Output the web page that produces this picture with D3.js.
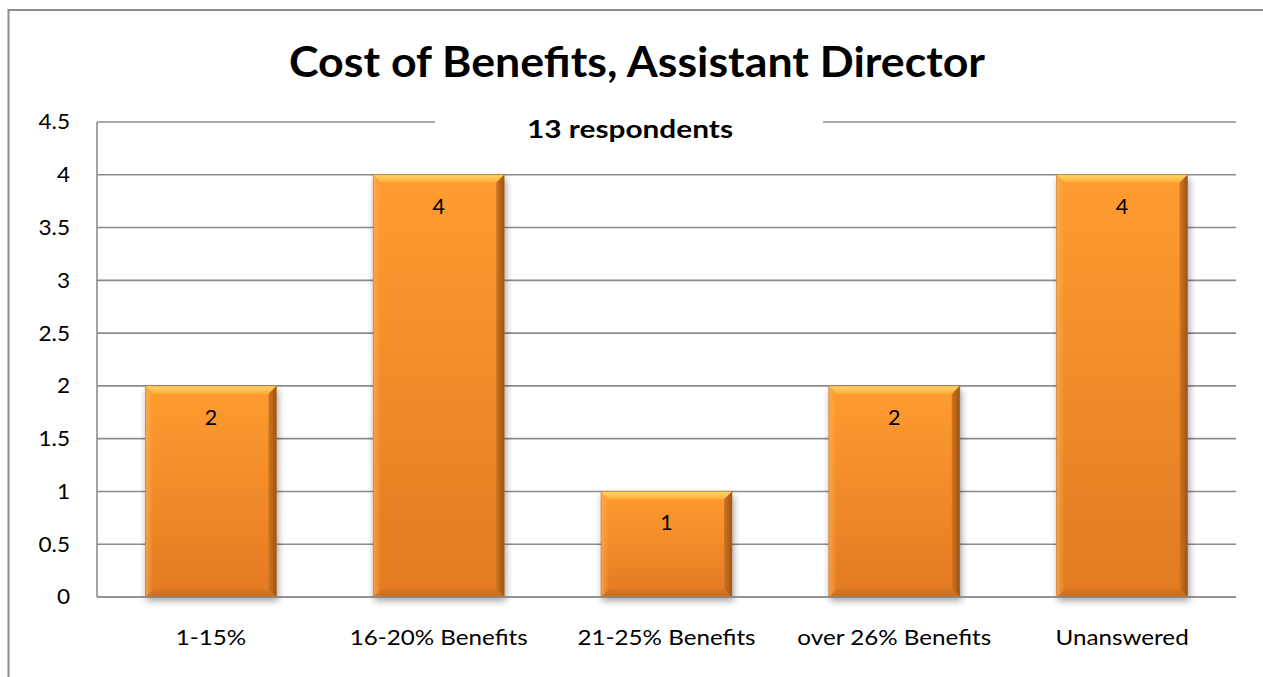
<!DOCTYPE html>
<html><head><meta charset="utf-8">
<script src="https://cdn.jsdelivr.net/npm/d3@7"></script>
<style>html,body{margin:0;padding:0;background:#fff;overflow:hidden}</style>
</head><body>
<svg id="c" width="1263" height="677"></svg>
<script>
const categories = ["1-15%", "16-20% Benefits", "21-25% Benefits", "over 26% Benefits", "Unanswered"];
const values = [2, 4, 1, 2, 4];
const yTicks = [0, 0.5, 1, 1.5, 2, 2.5, 3, 3.5, 4, 4.5];
const title = "Cost of Benefits, Assistant Director";
const subtitle = "13 respondents";

const svg = d3.select("#c");
const FONT = "Lato, 'Open Sans', sans-serif";
const grid = "#8c8c8c";

// outer frame
svg.append("rect").attr("x", 8.5).attr("y", 10).attr("width", 1300).attr("height", 700)
  .attr("fill", "#fff").attr("stroke", grid).attr("stroke-width", 2);

const L = 97, R = 1236, T = 122, B = 597;
const x = d3.scaleBand().domain(categories).range([L, R]).paddingInner(0.425).paddingOuter(0.2125);
const y = d3.scaleLinear().domain([0, 4.5]).range([B, T]);

const defs = svg.append("defs");
const g1 = defs.append("linearGradient").attr("id", "barg").attr("x1", 0).attr("y1", 0).attr("x2", 0).attr("y2", 1);
g1.append("stop").attr("offset", "0%").attr("stop-color", "#ff9c30");
g1.append("stop").attr("offset", "100%").attr("stop-color", "#e27a22");
const gl = defs.append("linearGradient").attr("id", "leftg").attr("x1", 0).attr("y1", 0).attr("x2", 1).attr("y2", 0);
gl.append("stop").attr("offset", "0%").attr("stop-color", "#ffb050").attr("stop-opacity", 0.7);
gl.append("stop").attr("offset", "100%").attr("stop-color", "#ffb050").attr("stop-opacity", 0);
const gt = defs.append("linearGradient").attr("id", "topg").attr("x1", 0).attr("y1", 0).attr("x2", 0).attr("y2", 1);
gt.append("stop").attr("offset", "0%").attr("stop-color", "#ffd866");
gt.append("stop").attr("offset", "100%").attr("stop-color", "#ffab3a");
const gr = defs.append("linearGradient").attr("id", "rightg").attr("x1", 0).attr("y1", 0).attr("x2", 1).attr("y2", 0);
gr.append("stop").attr("offset", "0%").attr("stop-color", "#d27520");
gr.append("stop").attr("offset", "100%").attr("stop-color", "#9a5416");
const gb = defs.append("linearGradient").attr("id", "botg").attr("x1", 0).attr("y1", 0).attr("x2", 0).attr("y2", 1);
gb.append("stop").attr("offset", "0%").attr("stop-color", "#d8761f");
gb.append("stop").attr("offset", "100%").attr("stop-color", "#b05f18");
const f = defs.append("filter").attr("id", "sh").attr("x", "-20%").attr("y", "-20%").attr("width", "140%").attr("height", "140%");
f.append("feGaussianBlur").attr("stdDeviation", 3.5);

// gridlines
svg.append("g").selectAll("line").data(yTicks).join("line")
  .attr("x1", L).attr("x2", R).attr("y1", d => y(d)).attr("y2", d => y(d))
  .attr("stroke", grid).attr("stroke-width", 1.6);
// left axis
svg.append("line").attr("x1", L).attr("x2", L).attr("y1", T).attr("y2", B)
  .attr("stroke", grid).attr("stroke-width", 1.6);

function stretch(sel, k) {
  sel.each(function () {
    const n = this, w = n.getComputedTextLength();
    if (w > 0) d3.select(n).attr("textLength", w * k).attr("lengthAdjust", "spacingAndGlyphs");
  });
}

// y tick labels
const yAxis = d3.axisLeft(y).tickValues(yTicks).tickSize(0).tickPadding(27).tickFormat(d3.format("~g"));
const ya = svg.append("g").attr("transform", `translate(${L},0)`).call(yAxis);
ya.select(".domain").remove();
ya.selectAll("text").attr("font-family", FONT).attr("font-size", 21.5).attr("fill", "#000");
stretch(ya.selectAll("text"), 1.05);

// bars
const bars = svg.append("g").selectAll("g").data(values).join("g")
  .attr("transform", (d, i) => `translate(${x(categories[i])},${y(d)})`);
const bw = x.bandwidth();
bars.append("rect").attr("x", 1).attr("y", 4).attr("width", bw + 1).attr("height", d => B - y(d))
  .attr("fill", "#000").attr("opacity", 0.35).attr("filter", "url(#sh)");
bars.append("rect").attr("width", bw).attr("height", d => B - y(d)).attr("fill", "url(#barg)");
const bv = 8;
bars.append("rect").attr("width", bv).attr("height", d => B - y(d)).attr("fill", "url(#leftg)");
bars.append("path").attr("d", d => `M0,0H${bw}L${bw-bv},${bv}H${bv}Z`).attr("fill", "url(#topg)");
bars.append("path").attr("d", d => { const h = B - y(d); return `M${bw},0V${h}L${bw-bv},${h-bv}V${bv}Z`; }).attr("fill", "url(#rightg)");
bars.append("path").attr("d", d => { const h = B - y(d); return `M0,${h}H${bw}L${bw-bv},${h-bv}H${bv}Z`; }).attr("fill", "url(#botg)").attr("opacity", 0.6);
bars.append("rect").attr("width", bw).attr("height", d => B - y(d)).attr("fill", "none")
  .attr("stroke", "#c06a1c").attr("stroke-width", 0.8).attr("opacity", 0.6);
bars.append("text").attr("x", bw / 2).attr("y", 39).attr("text-anchor", "middle")
  .attr("font-family", FONT).attr("font-size", 21.5).attr("fill", "#000").text(d => d);

// bottom axis line
svg.append("line").attr("x1", L).attr("x2", R).attr("y1", B).attr("y2", B)
  .attr("stroke", grid).attr("stroke-width", 1.6);

// x labels
const xAxis = d3.axisBottom(x).tickSize(0).tickPadding(32);
const xa = svg.append("g").attr("transform", `translate(0,${B})`).call(xAxis);
xa.select(".domain").remove();
xa.selectAll("text").attr("font-family", FONT).attr("font-size", 22).attr("fill", "#000");
stretch(xa.selectAll("text"), 1.1);

// subtitle with white box
svg.append("rect").attr("x", 435).attr("y", 112).attr("width", 388).attr("height", 40).attr("fill", "#fff");
const st = svg.append("text").attr("x", 630).attr("y", 138).attr("text-anchor", "middle")
  .attr("font-family", FONT).attr("font-weight", "bold").attr("font-size", 25).attr("fill", "#000").text(subtitle);

// title
const tt = svg.append("text").attr("x", 637).attr("y", 77).attr("text-anchor", "middle")
  .attr("font-family", FONT).attr("font-weight", "bold").attr("font-size", 42).attr("fill", "#000").text(title);

function fit(sel, w) {
  const n = sel.node(); const cur = n.getComputedTextLength();
  if (cur > 0) sel.attr("textLength", w).attr("lengthAdjust", "spacingAndGlyphs");
}
fit(tt, 696);
fit(st, 206);
</script>
</body></html>
